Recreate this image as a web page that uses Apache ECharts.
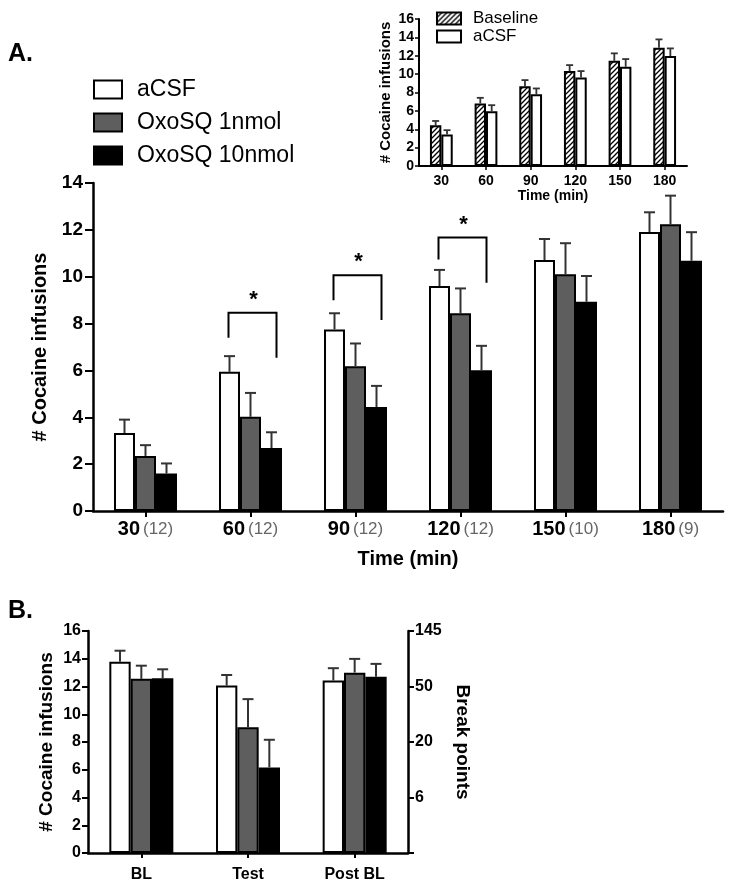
<!DOCTYPE html>
<html>
<head>
<meta charset="utf-8">
<title>Cocaine infusions</title>
<script src="https://cdn.jsdelivr.net/npm/echarts@6.0.0/dist/echarts.min.js"></script>
<style>
html, body { margin: 0; padding: 0; background: #fff; }
#chart { width: 734px; height: 890px; }
</style>
</head>
<body>
<div id="chart"></div>
<script>
// ---- panel A (main) ----
var timeCats = ['30', '60', '90', '120', '150', '180'];
var nCounts = ['(12)', '(12)', '(12)', '(12)', '(10)', '(9)'];
var acsfMean = [3.33, 5.94, 7.75, 9.6, 10.71, 11.91];
var acsfSem = [0.57, 0.67, 0.69, 0.69, 0.9, 0.84];
var oxo1Mean = [2.35, 4.02, 6.18, 8.44, 10.1, 12.24];
var oxo1Sem = [0.46, 1.02, 0.97, 1.06, 1.33, 1.22];
var oxo10Mean = [1.6, 2.69, 4.44, 6.01, 8.93, 10.68];
var oxo10Sem = [0.43, 0.67, 0.9, 1.04, 1.1, 1.22];
// significance brackets: category index, bracket top, left leg end, right leg end
var sigCat = [1, 2, 3];
var sigTop = [8.46, 10.06, 11.67];
var sigLeft = [7.39, 9.0, 10.74];
var sigRight = [6.54, 8.15, 9.74];

// ---- panel A (inset) ----
var baseMean = [4.44, 6.8, 8.69, 10.33, 11.45, 12.87];
var baseSem = [0.46, 0.62, 0.66, 0.65, 0.81, 0.91];
var insetAcsfMean = [3.42, 5.97, 7.82, 9.64, 10.8, 11.96];
var insetAcsfSem = [0.48, 0.65, 0.62, 0.69, 0.84, 0.84];

// ---- panel B ----
var phaseCats = ['BL', 'Test', 'Post BL'];
var bAcsfMean = [13.79, 12.07, 12.43];
var bAcsfSem = [0.79, 0.76, 0.89];
var bOxo1Mean = [12.55, 9.07, 13.0];
var bOxo1Sem = [0.95, 2.02, 0.99];
var bOxo10Mean = [12.6, 6.17, 12.71];
var bOxo10Sem = [0.64, 1.99, 0.92];
var breakPointLabels = ['', '6', '20', '50', '145'];

var FONT = "'Liberation Sans', Arial, Helvetica, sans-serif";
var GRAY = '#5e5e5e';

// hatch pattern for the baseline bars
var hatch = document.createElement('canvas');
hatch.width = 5; hatch.height = 5;
(function () {
	var c = hatch.getContext('2d');
	c.fillStyle = '#fff';
	c.fillRect(0, 0, 5, 5);
	c.strokeStyle = '#000';
	c.lineWidth = 1.3;
	c.beginPath();
	c.moveTo(-1, 6); c.lineTo(6, -1);
	c.moveTo(-3.5, 3.5); c.lineTo(3.5, -3.5);
	c.moveTo(1.5, 8.5); c.lineTo(8.5, 1.5);
	c.stroke();
})();

function axisLineStyle(w) {
	return { show: true, lineStyle: { color: '#000', width: w } };
}

function barSeries(name, xi, yi, data, color, gap) {
	return {
		name: name, type: 'bar', xAxisIndex: xi, yAxisIndex: yi,
		data: data, barGap: '0%', barCategoryGap: gap,
		itemStyle: { color: color, borderColor: '#000', borderWidth: 2 },
		emphasis: { disabled: true }
	};
}

// error bars (upper only, with cap), drawn through the axes
function errSeries(xi, yi, mean, sem, slot, nSlots, frac, capW, lw) {
	return {
		type: 'custom', xAxisIndex: xi, yAxisIndex: yi, z: 5, silent: true,
		data: mean.map(function (m, i) { return [i, m, sem[i]]; }),
		renderItem: function (params, api) {
			var i = api.value(0), m = api.value(1), s = api.value(2);
			var band = api.size([1, 0])[0];
			var off = (slot - (nSlots - 1) / 2) * band * frac;
			var p0 = api.coord([i, m]), p1 = api.coord([i, m + s]);
			var x = p0[0] + off;
			var st = { stroke: '#333', lineWidth: lw };
			return {
				type: 'group', children: [
					{ type: 'line', shape: { x1: x, y1: p0[1], x2: x, y2: p1[1] }, style: st },
					{ type: 'line', shape: { x1: x - capW / 2, y1: p1[1], x2: x + capW / 2, y2: p1[1] }, style: st }
				]
			};
		}
	};
}

var bracketSeries = {
	type: 'custom', xAxisIndex: 0, yAxisIndex: 0, z: 6, silent: true,
	data: sigCat.map(function (c, i) { return [c, sigTop[i], sigLeft[i], sigRight[i]]; }),
	renderItem: function (params, api) {
		var c = api.value(0);
		var band = api.size([1, 0])[0];
		var bw = band * 0.2;
		var pTop = api.coord([c, api.value(1)]);
		var yL = api.coord([c, api.value(2)])[1];
		var yR = api.coord([c, api.value(3)])[1];
		var xl = pTop[0] - bw - 1, xr = pTop[0] + bw + 5;
		return {
			type: 'group', children: [
				{ type: 'polyline', shape: { points: [[xl, yL], [xl, pTop[1]], [xr, pTop[1]], [xr, yR]] },
				  style: { stroke: '#000', lineWidth: 2, fill: null } },
				{ type: 'text', x: pTop[0] + 3, y: pTop[1] - 2,
				  style: { text: '*', font: 'bold 22px ' + FONT, fill: '#000', align: 'center', verticalAlign: 'bottom' } }
			]
		};
	}
};

var myChart = echarts.init(document.getElementById('chart'));

var option = {
	backgroundColor: '#fff',
	animation: false,
	textStyle: { fontFamily: FONT },
	title: [
		{ text: 'A.', left: 8, top: 42, padding: 0, textStyle: { fontSize: 25, fontWeight: 'bold', color: '#000', fontFamily: FONT } },
		{ text: 'B.', left: 8, top: 599, padding: 0, textStyle: { fontSize: 25, fontWeight: 'bold', color: '#000', fontFamily: FONT } }
	],
	legend: [
		{
			data: ['aCSF', 'OxoSQ 1nmol', 'OxoSQ 10nmol'],
			orient: 'vertical', left: 93, top: 78, padding: 0,
			itemWidth: 28, itemHeight: 18, itemGap: 10, selectedMode: false,
			icon: 'rect',
			itemStyle: { borderColor: '#000', borderWidth: 2 },
			textStyle: { fontSize: 23, color: '#000', fontFamily: FONT, padding: [0, 0, 0, 10] }
		},
		{
			data: ['Baseline', 'aCSF'],
			orient: 'vertical', left: 436, top: 10, padding: 0,
			itemWidth: 24, itemHeight: 12, itemGap: 1, selectedMode: false,
			icon: 'rect',
			itemStyle: { borderColor: '#000', borderWidth: 2 },
			textStyle: { fontSize: 17, color: '#000', fontFamily: FONT, padding: [0, 0, 0, 7] }
		}
	],
	grid: [
		{ left: 93, top: 183, width: 630, height: 328 },
		{ left: 419, top: 19, width: 268, height: 147 },
		{ left: 88, top: 631, width: 320, height: 222 }
	],
	xAxis: [
		{
			type: 'category', gridIndex: 0, data: timeCats,
			axisLine: axisLineStyle(2.5),
			axisTick: { show: true, alignWithLabel: true, length: 6, lineStyle: { color: '#000', width: 2 } },
			axisLabel: {
				margin: 8,
				formatter: function (v, i) { return '{n|' + v + '}{c|' + nCounts[i] + '}'; },
				rich: {
					n: { fontSize: 20, fontWeight: 'bold', color: '#000', fontFamily: FONT },
					c: { fontSize: 17, color: '#666', fontFamily: FONT, padding: [0, 0, 0, 3] }
				}
			},
			name: 'Time (min)', nameLocation: 'middle', nameGap: 38,
			nameTextStyle: { fontSize: 20, fontWeight: 'bold', color: '#000', fontFamily: FONT }
		},
		{
			type: 'category', gridIndex: 1, data: timeCats,
			axisLine: axisLineStyle(2),
			axisTick: { show: true, alignWithLabel: true, length: 4, lineStyle: { color: '#000', width: 1.5 } },
			axisLabel: { margin: 8, fontSize: 14, fontWeight: 'bold', color: '#000', fontFamily: FONT },
			name: 'Time (min)', nameLocation: 'middle', nameGap: 23,
			nameTextStyle: { fontSize: 14, fontWeight: 'bold', color: '#000', fontFamily: FONT }
		},
		{
			type: 'category', gridIndex: 2, data: phaseCats,
			axisLine: axisLineStyle(2.5),
			axisTick: { show: true, alignWithLabel: true, length: 5, lineStyle: { color: '#000', width: 2 } },
			axisLabel: { margin: 14, fontSize: 16, fontWeight: 'bold', color: '#000', fontFamily: FONT }
		}
	],
	yAxis: [
		{
			type: 'value', gridIndex: 0, min: 0, max: 14, interval: 2,
			axisLine: axisLineStyle(2.5),
			axisTick: { show: true, length: 8, lineStyle: { color: '#000', width: 2 } },
			splitLine: { show: false },
			axisLabel: { margin: 10, fontSize: 19, fontWeight: 'bold', color: '#000', fontFamily: FONT },
			name: '# Cocaine infusions', nameLocation: 'middle', nameGap: 43,
			nameTextStyle: { fontSize: 20, fontWeight: 'bold', color: '#000', fontFamily: FONT }
		},
		{
			type: 'value', gridIndex: 1, min: 0, max: 16, interval: 2,
			axisLine: axisLineStyle(2),
			axisTick: { show: true, length: 4, lineStyle: { color: '#000', width: 1.5 } },
			splitLine: { show: false },
			axisLabel: { margin: 5, fontSize: 14, fontWeight: 'bold', color: '#000', fontFamily: FONT },
			name: '# Cocaine infusions', nameLocation: 'middle', nameGap: 26,
			nameTextStyle: { fontSize: 15, fontWeight: 'bold', color: '#000', fontFamily: FONT }
		},
		{
			type: 'value', gridIndex: 2, min: 0, max: 16, interval: 2,
			axisLine: axisLineStyle(2.5),
			axisTick: { show: true, length: 6, lineStyle: { color: '#000', width: 2 } },
			splitLine: { show: false },
			axisLabel: { margin: 7, fontSize: 16, fontWeight: 'bold', color: '#000', fontFamily: FONT },
			name: '# Cocaine infusions', nameLocation: 'middle', nameGap: 32,
			nameTextStyle: { fontSize: 19, fontWeight: 'bold', color: '#000', fontFamily: FONT }
		},
		{
			type: 'value', gridIndex: 2, position: 'right', min: 0, max: 16, interval: 4,
			axisLine: axisLineStyle(2.5),
			axisTick: { show: true, length: 6, lineStyle: { color: '#000', width: 2 } },
			splitLine: { show: false },
			axisLabel: {
				margin: 7, fontSize: 16, fontWeight: 'bold', color: '#000', fontFamily: FONT,
				formatter: function (v) { return breakPointLabels[v / 4]; }
			},
			name: 'Break points', nameLocation: 'middle', nameGap: 45, nameRotate: -90,
			nameTextStyle: { fontSize: 19, fontWeight: 'bold', color: '#000', fontFamily: FONT }
		}
	],
	series: [
		barSeries('aCSF', 0, 0, acsfMean, '#fff', '40%'),
		barSeries('OxoSQ 1nmol', 0, 0, oxo1Mean, GRAY, '40%'),
		barSeries('OxoSQ 10nmol', 0, 0, oxo10Mean, '#000', '40%'),
		errSeries(0, 0, acsfMean, acsfSem, 0, 3, 0.2, 11, 2),
		errSeries(0, 0, oxo1Mean, oxo1Sem, 1, 3, 0.2, 11, 2),
		errSeries(0, 0, oxo10Mean, oxo10Sem, 2, 3, 0.2, 11, 2),
		bracketSeries,

		barSeries('Baseline', 1, 1, baseMean, { image: hatch, repeat: 'repeat' }, '49%'),
		barSeries('aCSF', 1, 1, insetAcsfMean, '#fff', '49%'),
		errSeries(1, 1, baseMean, baseSem, 0, 2, 0.255, 7, 1.8),
		errSeries(1, 1, insetAcsfMean, insetAcsfSem, 1, 2, 0.255, 7, 1.8),

		barSeries('aCSF', 2, 2, bAcsfMean, '#fff', '40%'),
		barSeries('OxoSQ 1nmol', 2, 2, bOxo1Mean, GRAY, '40%'),
		barSeries('OxoSQ 10nmol', 2, 2, bOxo10Mean, '#000', '40%'),
		errSeries(2, 2, bAcsfMean, bAcsfSem, 0, 3, 0.2, 11, 2),
		errSeries(2, 2, bOxo1Mean, bOxo1Sem, 1, 3, 0.2, 11, 2),
		errSeries(2, 2, bOxo10Mean, bOxo10Sem, 2, 3, 0.2, 11, 2)
	]
};

myChart.setOption(option);
</script>
</body>
</html>
